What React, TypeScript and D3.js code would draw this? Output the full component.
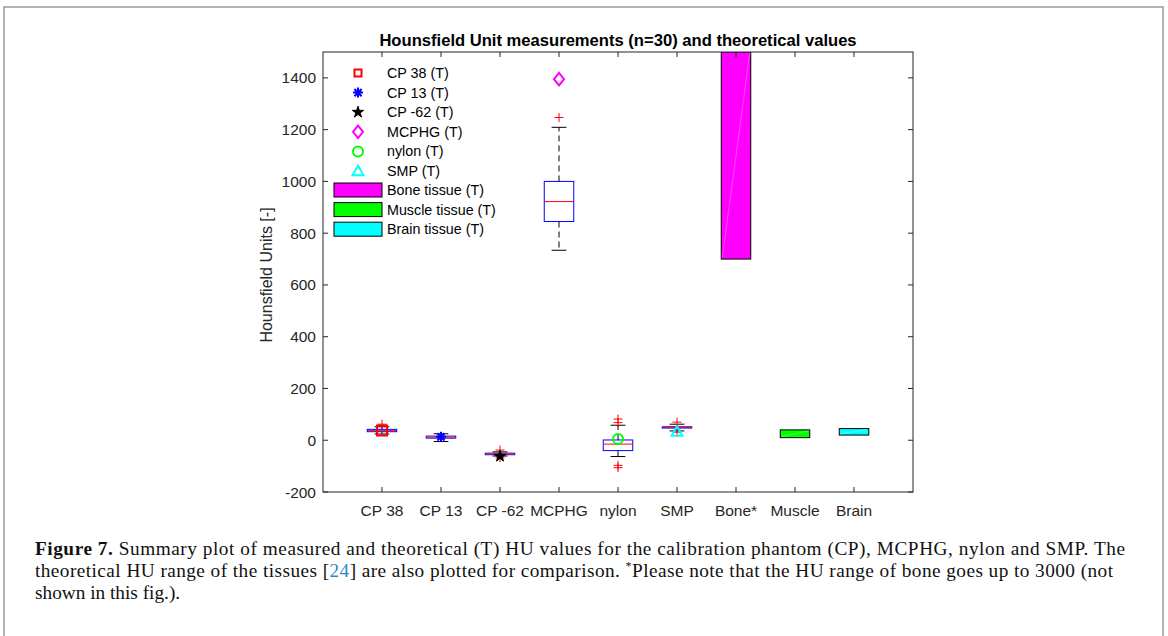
import React from "react";
import * as d3 from "d3";

const categories = ["CP 38", "CP 13", "CP -62", "MCPHG", "nylon", "SMP", "Bone*", "Muscle", "Brain"];

// box plot stats: [lowerWhisker, q1, median, q3, upperWhisker]
const boxNames = ["CP 38", "CP 13", "CP -62", "MCPHG", "nylon", "SMP"];
const boxLow = [24, -5, -61, 734, -63, 36];
const boxQ1 = [33, 8, -56, 845, -40, 47];
const boxMed = [37, 12, -53, 922, -15, 50];
const boxQ3 = [42, 16, -50, 1000, 1, 52];
const boxHigh = [52, 25, -45, 1209, 58, 62];
const boxOutliers = [[62], [], [-38, -68], [1247], [68, 82, -97, -106], [70, 31]];

// theoretical values
const theoryNames = ["CP 38 (T)", "CP 13 (T)", "CP -62 (T)", "MCPHG (T)", "nylon (T)", "SMP (T)"];
const theoryValues = [38, 13, -62, 1395, 5, 33];
const theoryColors = ["#ff0000", "#0000ff", "#000000", "#ff00ff", "#00ff00", "#00ffff"];
const theoryMarkers = ["square", "asterisk", "star", "diamond", "circle", "triangle"];

// tissue ranges
const tissueNames = ["Bone tissue (T)", "Muscle tissue (T)", "Brain tissue (T)"];
const tissueLow = [700, 10, 20];
const tissueHigh = [3000, 40, 45];
const tissueColors = ["#ff00ff", "#00ff00", "#00ffff"];

const yTicks = [-200, 0, 200, 400, 600, 800, 1000, 1200, 1400];

const W = 1168, H = 636;
const L = 323, R = 913, T = 52, B = 492;

function markerPath(kind: string, size: number): string {
  const s = size / 2;
  switch (kind) {
    case "square":
      return `M${-s},${-s}H${s}V${s}H${-s}Z`;
    case "diamond":
      return `M0,${-s * 1.25}L${s},0L0,${s * 1.25}L${-s},0Z`;
    case "circle":
      return d3.symbol(d3.symbolCircle, Math.PI * s * s)() as string;
    case "triangle": {
      const h = s * 1.1;
      return `M0,${-h}L${h},${h * 0.75}L${-h},${h * 0.75}Z`;
    }
    case "star":
      return d3.symbol(d3.symbolStar, size * size * 0.4)() as string;
    case "asterisk": {
      const a = s * 0.72;
      return `M${-s},0H${s}M0,${-s}V${s}M${-a},${-a}L${a},${a}M${-a},${a}L${a},${-a}`;
    }
  }
  return "";
}

function Marker({ kind, color, x, y, size }: { kind: string; color: string; x: number; y: number; size: number }) {
  const d = markerPath(kind, size);
  const filled = kind === "star";
  return (
    <path
      d={d}
      transform={`translate(${x},${y})`}
      fill={filled ? color : "none"}
      stroke={color}
      strokeWidth={filled ? 1 : 2}
      strokeLinejoin="miter"
    />
  );
}

export default function App() {
  const x = d3.scaleLinear().domain([0, 10]).range([L, R]);
  const y = d3.scaleLinear().domain([-200, 1500]).range([B, T]);
  const bw = x(0.25) - x(0);
  const font = "'Liberation Sans', Arial, Helvetica, sans-serif";
  const serif = "'Liberation Serif', 'Times New Roman', serif";
  const axisColor = "#262626";

  return (
    <svg width={W} height={H} style={{ position: "absolute", left: 0, top: 0, background: "#fff" }}>
      <defs>
        <clipPath id="plotClip">
          <rect x={L} y={T} width={R - L} height={B - T} />
        </clipPath>
      </defs>
      <rect x={4} y={7} width={1159} height={660} fill="none" stroke="#9a9a9a" strokeWidth={1.5} />

      {/* title */}
      <text x={(L + R) / 2} y={46} textAnchor="middle" fontFamily={font} fontWeight="bold" fontSize={16.6} fill="#000">
        Hounsfield Unit measurements (n=30) and theoretical values
      </text>

      {/* tissues */}
      <g clipPath="url(#plotClip)">
        {tissueNames.map((n, i) => {
          const cx = x(7 + i);
          const y0 = y(tissueLow[i]);
          const y1 = Math.max(y(tissueHigh[i]), T);
          return (
            <g key={n}>
              <rect x={cx - bw} y={y1} width={2 * bw} height={y0 - y1} fill={tissueColors[i]} stroke="#000" strokeWidth={1} />
              <line x1={cx - bw + 1} y1={y0 - 1} x2={cx + bw - 1} y2={y1 + 1} stroke="#fff" strokeOpacity={0.35} strokeWidth={0.8} />
            </g>
          );
        })}
      </g>

      {/* boxes */}
      <g clipPath="url(#plotClip)">
        {boxNames.map((n, i) => {
          const cx = x(i + 1);
          const cap = bw / 2;
          return (
            <g key={n}>
              <line x1={cx} x2={cx} y1={y(boxQ3[i])} y2={y(boxHigh[i])} stroke="#000" strokeDasharray="6,4" strokeWidth={1} />
              <line x1={cx} x2={cx} y1={y(boxQ1[i])} y2={y(boxLow[i])} stroke="#000" strokeDasharray="6,4" strokeWidth={1} />
              <line x1={cx - cap} x2={cx + cap} y1={y(boxHigh[i])} y2={y(boxHigh[i])} stroke="#000" strokeWidth={1} />
              <line x1={cx - cap} x2={cx + cap} y1={y(boxLow[i])} y2={y(boxLow[i])} stroke="#000" strokeWidth={1} />
              <rect x={cx - bw} y={y(boxQ3[i])} width={2 * bw} height={Math.max(y(boxQ1[i]) - y(boxQ3[i]), 1)} fill="none" stroke="#0000ff" strokeWidth={1} />
              <line x1={cx - bw} x2={cx + bw} y1={y(boxMed[i])} y2={y(boxMed[i])} stroke="#ff0000" strokeWidth={1} />
              {boxOutliers[i].map((o, j) => (
                <path key={j} d={`M${cx - 4.5},${y(o)}H${cx + 4.5}M${cx},${y(o) - 4.5}V${y(o) + 4.5}`} stroke="#ff0000" strokeWidth={1} />
              ))}
            </g>
          );
        })}
        {theoryNames.map((n, i) => (
          <Marker key={n} kind={theoryMarkers[i]} color={theoryColors[i]} x={x(i + 1)} y={y(theoryValues[i])} size={10} />
        ))}
      </g>

      {/* axes frame */}
      <rect x={L} y={T} width={R - L} height={B - T} fill="none" stroke={axisColor} strokeWidth={1} />
      {yTicks.map((t) => (
        <g key={t}>
          <line x1={L} x2={L + 5} y1={y(t)} y2={y(t)} stroke={axisColor} />
          <line x1={R} x2={R - 5} y1={y(t)} y2={y(t)} stroke={axisColor} />
          <text x={L - 7} y={y(t) + 5.5} textAnchor="end" fontFamily={font} fontSize={15.5} fill={axisColor}>
            {t}
          </text>
        </g>
      ))}
      {categories.map((c, i) => (
        <g key={c}>
          <line x1={x(i + 1)} x2={x(i + 1)} y1={B} y2={B - 5} stroke={axisColor} />
          <line x1={x(i + 1)} x2={x(i + 1)} y1={T} y2={T + 5} stroke={axisColor} />
          <text x={x(i + 1)} y={B + 24} textAnchor="middle" fontFamily={font} fontSize={15.5} fill={axisColor}>
            {c}
          </text>
        </g>
      ))}
      <text transform={`translate(272,${(T + B) / 2 + 3}) rotate(-90)`} textAnchor="middle" fontFamily={font} fontSize={16} fill={axisColor}>
        Hounsfield Units [-]
      </text>

      {/* legend */}
      <g fontFamily={font} fontSize={14.3} fill="#000">
        {theoryNames.map((n, i) => {
          const ly = 73 + i * 19.6;
          return (
            <g key={n}>
              <Marker kind={theoryMarkers[i]} color={theoryColors[i]} x={358} y={ly} size={i === 0 ? 7 : 10} />
              <text x={387} y={ly + 5}>{n}</text>
            </g>
          );
        })}
        {tissueNames.map((n, i) => {
          const ly = 190 + i * 19.6;
          return (
            <g key={n}>
              <rect x={334} y={ly - 7} width={48} height={14} fill={tissueColors[i]} stroke="#000" strokeWidth={1} />
              <text x={387} y={ly + 5}>{n}</text>
            </g>
          );
        })}
      </g>

      {/* caption */}
      <g fontFamily={serif} fontSize={19.3} fill="#111">
        <text x={35} y={555} textLength={1090} lengthAdjust="spacing">
          <tspan fontWeight="bold">Figure 7.</tspan> Summary plot of measured and theoretical (T) HU values for the calibration phantom (CP), MCPHG, nylon and SMP. The
        </text>
        <text x={35} y={577} textLength={1078} lengthAdjust="spacing">
          theoretical HU range of the tissues [<tspan fill="#2b8cc4">24</tspan>] are also plotted for comparison. <tspan fontSize={12} dy={-7}>*</tspan><tspan dy={7}>Please note that the HU range of bone goes up to 3000 (not</tspan>
        </text>
        <text x={35} y={599}>shown in this fig.).</text>
      </g>
    </svg>
  );
}
